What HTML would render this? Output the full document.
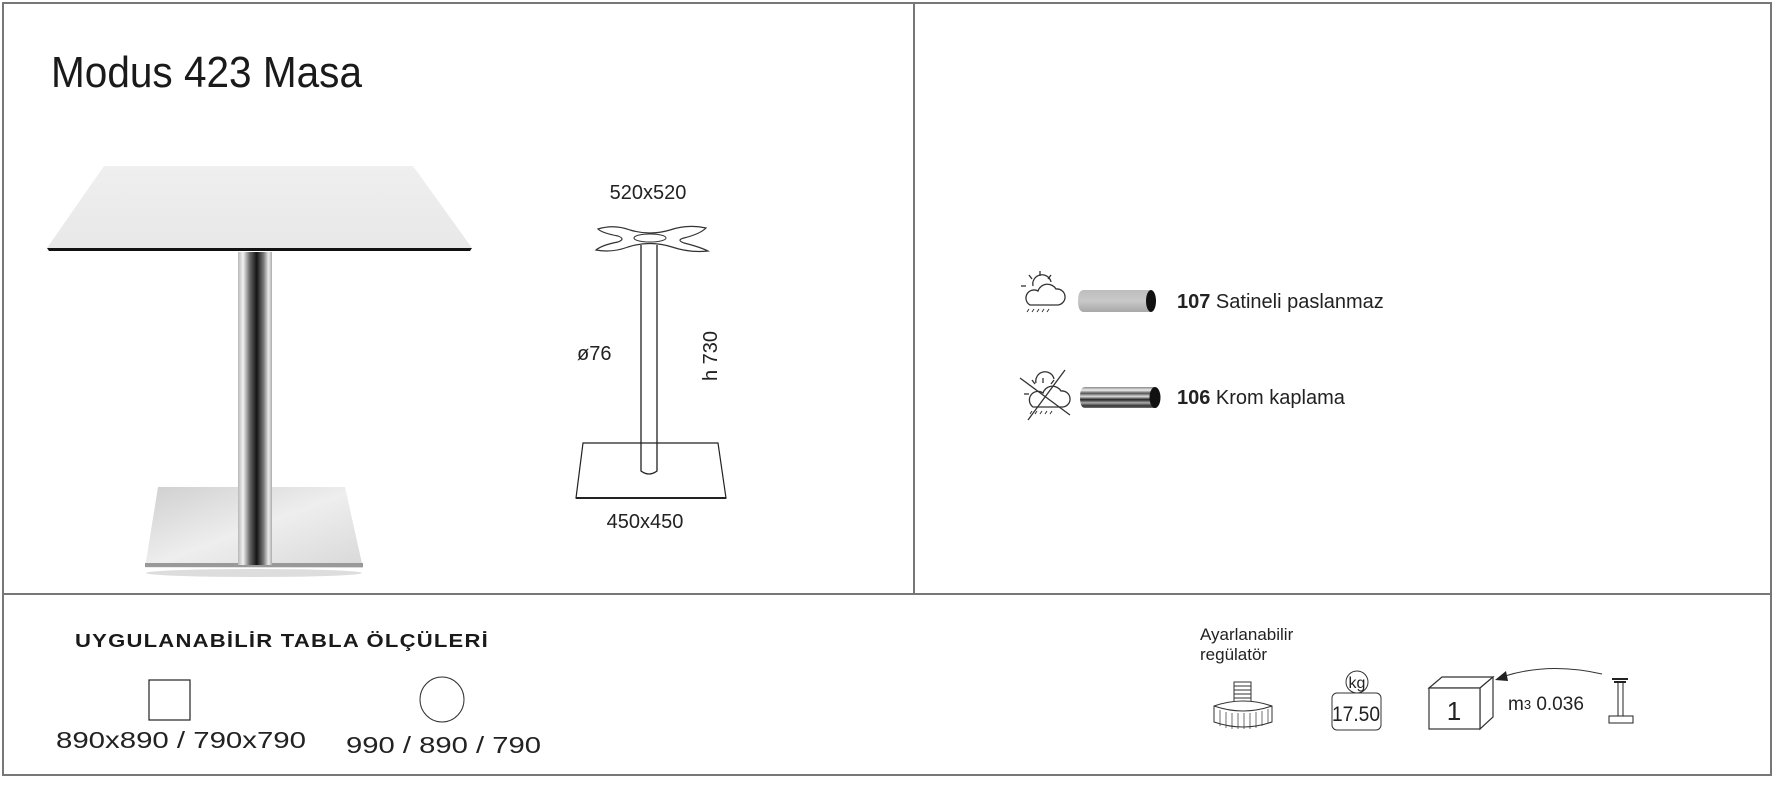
<!DOCTYPE html>
<html><head><meta charset="utf-8"><style>
html,body{margin:0;padding:0;background:#fff;}
body{width:1774px;height:780px;overflow:hidden;}
</style></head><body>
<svg width="1774" height="780" viewBox="0 0 1774 780" xmlns="http://www.w3.org/2000/svg" font-family="Liberation Sans, Arial, sans-serif">
<defs>
<linearGradient id="col" x1="0" x2="1" y1="0" y2="0">
<stop offset="0" stop-color="#b8b8b8"/><stop offset="0.15" stop-color="#f2f2f2"/><stop offset="0.35" stop-color="#666"/><stop offset="0.55" stop-color="#151515"/><stop offset="0.75" stop-color="#777"/><stop offset="0.9" stop-color="#ececec"/><stop offset="1" stop-color="#aaa"/>
</linearGradient>
<linearGradient id="base" x1="0" x2="1" y1="0" y2="1">
<stop offset="0" stop-color="#cfcfcf"/><stop offset="0.5" stop-color="#eeeeee"/><stop offset="1" stop-color="#d8d8d8"/>
</linearGradient>
<linearGradient id="top" x1="0" x2="0" y1="0" y2="1">
<stop offset="0" stop-color="#efefef"/><stop offset="1" stop-color="#e8e8e8"/>
</linearGradient>
<linearGradient id="sat" x1="0" x2="0" y1="0" y2="1">
<stop offset="0" stop-color="#bdbdbd"/><stop offset="0.5" stop-color="#c8c8c8"/><stop offset="1" stop-color="#a8a8a8"/>
</linearGradient>
<linearGradient id="chr" x1="0" x2="0" y1="0" y2="1">
<stop offset="0" stop-color="#888"/><stop offset="0.15" stop-color="#eee"/><stop offset="0.3" stop-color="#555"/><stop offset="0.45" stop-color="#ddd"/><stop offset="0.6" stop-color="#222"/><stop offset="0.75" stop-color="#aaa"/><stop offset="0.9" stop-color="#333"/><stop offset="1" stop-color="#777"/>
</linearGradient>
</defs>
<rect x="3" y="3" width="1768" height="772" fill="none" stroke="#777" stroke-width="2"/>
<line x1="3" y1="594" x2="1771" y2="594" stroke="#777" stroke-width="2"/>
<line x1="914" y1="3" x2="914" y2="594" stroke="#777" stroke-width="2"/>

<text x="51" y="87" font-size="44" fill="#1a1a1a" textLength="311" lengthAdjust="spacingAndGlyphs">Modus 423 Masa</text>

<ellipse cx="254" cy="573" rx="108" ry="4" fill="#ddd"/>
<polygon points="158,487 345,487 363,568 145,568" fill="url(#base)"/>
<rect x="145" y="563" width="218" height="4" fill="#999"/>
<rect x="238" y="252" width="34" height="313" fill="url(#col)"/>
<polygon points="104,166 413,166 472,248 47,248" fill="url(#top)"/>
<polygon points="47,248 472,248 470,251 49,251" fill="#111"/>

<text x="648" y="199" font-size="20" text-anchor="middle" fill="#222">520x520</text>
<path d="M598,229 Q614,224 630,230 Q650,236 670,230 Q688,224 706,228 Q700,234 684,238 Q676,240 684,243 Q700,247 708,251 Q690,253 672,247 Q650,240 628,247 Q612,253 596,250 Q602,245 618,242 Q626,239 618,236 Q602,233 598,229Z" fill="#fff" stroke="#333" stroke-width="1.2"/>
<ellipse cx="650" cy="238" rx="16" ry="4" fill="none" stroke="#333" stroke-width="1"/>
<path d="M641,245 V471 Q649,477 657,471 V245" fill="#fff" stroke="#222" stroke-width="1.3"/>
<polygon points="583,443 718,443 726,498 576,498" fill="none" stroke="#222" stroke-width="1.2"/>
<line x1="576" y1="498" x2="726" y2="498" stroke="#222" stroke-width="2"/>
<text x="645" y="528" font-size="20" text-anchor="middle" fill="#222">450x450</text>
<text x="577" y="360" font-size="20" fill="#222">ø76</text>
<text transform="translate(717,381) rotate(-90)" font-size="20" fill="#222">h 730</text>

<g stroke="#333" stroke-width="1.3" fill="none">
<path d="M1033,286 a9,9 0 0 1 18,-4"/>
<line x1="1040" y1="271" x2="1040" y2="276"/><line x1="1029" y1="275" x2="1032" y2="279"/><line x1="1051" y1="275" x2="1048" y2="279"/><line x1="1021" y1="286" x2="1026" y2="286"/>
<path d="M1030,305 h28 a8,8 0 0 0 -2,-16 a10,10 0 0 0 -18,2 a7,7 0 0 0 -8,14z" fill="#fff"/>
<path d="M1029,309 l-2,3 M1034,309 l-2,3 M1039,309 l-2,3 M1044,309 l-2,3 M1049,309 l-2,3" stroke-width="1"/>
</g>
<path d="M1084,290 H1151 V312 H1084 Q1078,312 1078,301 Q1078,290 1084,290Z" fill="url(#sat)"/>
<ellipse cx="1151" cy="301" rx="5" ry="11" fill="#111"/>
<text x="1177" y="308" font-size="20" fill="#222"><tspan font-weight="bold">107</tspan> Satineli paslanmaz</text>

<g stroke="#333" stroke-width="1.3" fill="none">
<path d="M1036,383 a9,9 0 0 1 18,-4"/>
<line x1="1043" y1="378" x2="1043" y2="383"/><line x1="1032" y1="380" x2="1035" y2="384"/><line x1="1054" y1="380" x2="1051" y2="384"/><line x1="1024" y1="394" x2="1029" y2="394"/>
<path d="M1033,407 h30 a8,8 0 0 0 -2,-16 a10,10 0 0 0 -18,2 a7,7 0 0 0 -10,14z" fill="#fff"/>
<path d="M1032,411 l-2,3 M1037,411 l-2,3 M1042,411 l-2,3 M1047,411 l-2,3 M1052,411 l-2,3" stroke-width="1"/>
<line x1="1020" y1="378" x2="1070" y2="415"/><line x1="1065" y1="370" x2="1028" y2="420"/>
</g>
<path d="M1085,387 H1155 V408 H1085 Q1080,408 1080,397 Q1080,387 1085,387Z" fill="url(#chr)"/>
<ellipse cx="1155" cy="397.5" rx="5.5" ry="10.5" fill="#111"/>
<text x="1177" y="404" font-size="20" fill="#222"><tspan font-weight="bold">106</tspan> Krom kaplama</text>

<text x="75" y="647" font-size="18" font-weight="bold" fill="#1a1a1a" textLength="414" lengthAdjust="spacingAndGlyphs" letter-spacing="1">UYGULANABİLİR TABLA ÖLÇÜLERİ</text>
<rect x="149" y="680" width="41" height="40" fill="none" stroke="#222" stroke-width="1.2"/>
<text x="56" y="748" font-size="23" fill="#222" textLength="250" lengthAdjust="spacingAndGlyphs">890x890 / 790x790</text>
<ellipse cx="442" cy="699.5" rx="22" ry="22.5" fill="none" stroke="#333" stroke-width="1"/>
<text x="346" y="753" font-size="23" fill="#222" textLength="195" lengthAdjust="spacingAndGlyphs">990 / 890 / 790</text>

<text x="1200" y="640" font-size="17" fill="#222">Ayarlanabilir</text>
<text x="1200" y="660" font-size="17" fill="#222">regülatör</text>
<g stroke="#333" stroke-width="1" fill="#fff">
<rect x="1234" y="682" width="17" height="20"/>
<path d="M1234,686h17M1234,690h17M1234,694h17M1234,698h17"/>
<path d="M1214,706 Q1243,696 1272,706 V722 Q1243,732 1214,722Z"/>
<path d="M1214,706 Q1243,716 1272,706"/>
<path d="M1220,710v16M1226,712v16M1232,713v16M1238,713v16M1244,713v16M1250,713v16M1256,712v16M1262,711v15M1268,709v14" stroke-width="0.7"/>
</g>
<circle cx="1357" cy="682" r="11" fill="#fff" stroke="#333" stroke-width="1"/>
<text x="1357" y="688" font-size="16" text-anchor="middle" fill="#222">kg</text>
<rect x="1332" y="693" width="49" height="37" rx="5" fill="#fff" stroke="#333" stroke-width="1"/>
<text x="1356" y="721" font-size="21" text-anchor="middle" fill="#222" textLength="48" lengthAdjust="spacingAndGlyphs">17.50</text>
<g fill="#fff" stroke="#333" stroke-width="1.2">
<polygon points="1429,688 1442,677 1493,677 1480,688"/>
<polygon points="1480,688 1493,677 1493,717 1480,729"/>
<rect x="1429" y="688" width="51" height="41"/>
</g>
<text x="1454" y="720" font-size="26" text-anchor="middle" fill="#222">1</text>
<path d="M1602,674 Q1550,662 1505,676" fill="none" stroke="#333" stroke-width="1"/>
<polygon points="1495,680 1506,671 1508,681" fill="#222"/>
<text x="1508" y="710" font-size="19" fill="#222">m<tspan font-size="13" dy="-1">3</tspan><tspan dy="1"> 0.036</tspan></text>
<g stroke="#222" fill="none">
<path d="M1612,679 h16 M1614,682 h12" stroke-width="2"/>
<path d="M1618,683 V716 M1623,683 V716" stroke-width="1"/>
<rect x="1609" y="716" width="24" height="7" stroke-width="1"/>
</g>
</svg>
</body></html>
